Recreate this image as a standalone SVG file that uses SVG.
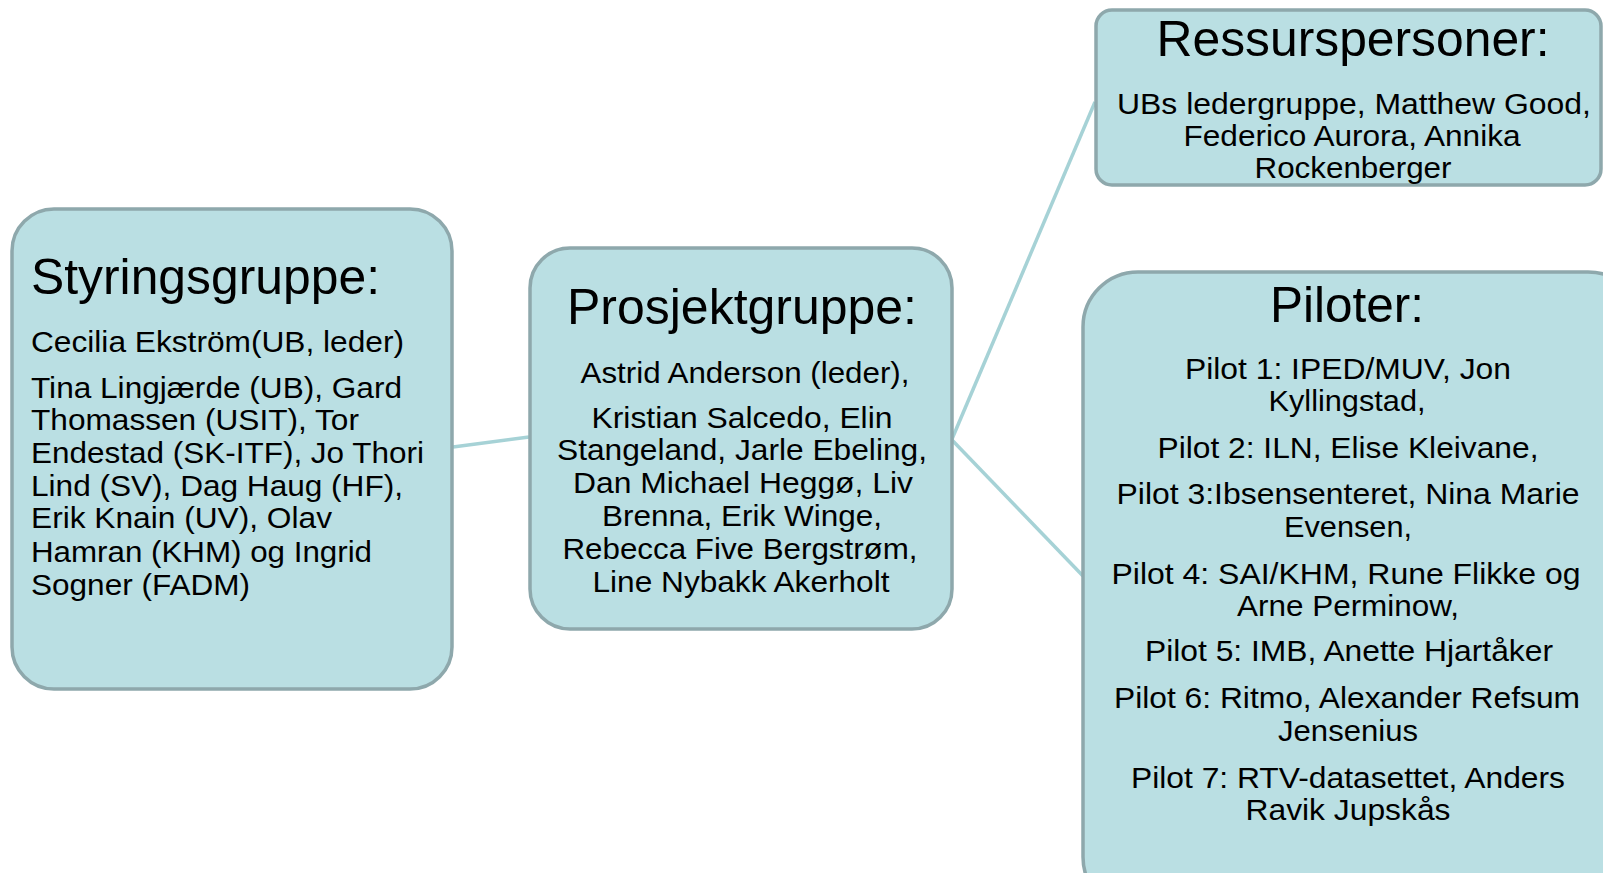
<svg xmlns="http://www.w3.org/2000/svg" width="1603" height="873" viewBox="0 0 1603 873">
<style>
.box{fill:#badfe3;stroke:#8ea8ac;stroke-width:3.5}
.conn{stroke:#a6d2d6;stroke-width:3.5;fill:none}
text{font-family:"Liberation Sans",Arial,sans-serif;fill:#000}
.t{font-size:50px}
.b{font-size:30px}
.c{text-anchor:middle}
</style>
<rect width="1603" height="873" fill="#ffffff"/>
<g id="connectors">
<line class="conn" x1="453" y1="447" x2="529" y2="437"/>
<line class="conn" x1="952" y1="439" x2="1095" y2="102"/>
<line class="conn" x1="952" y1="440" x2="1083" y2="576"/>
</g>
<g id="styringsgruppe">
<rect class="box" x="12" y="209" width="440" height="480" rx="42"/>
<text class="t" x="31" y="294" textLength="349" lengthAdjust="spacingAndGlyphs">Styringsgruppe:</text>
<text class="b" x="31" y="352" textLength="373" lengthAdjust="spacingAndGlyphs">Cecilia Ekström(UB, leder)</text>
<text class="b" x="31" y="398" textLength="371" lengthAdjust="spacingAndGlyphs">Tina Lingjærde (UB), Gard</text>
<text class="b" x="31" y="430" textLength="328" lengthAdjust="spacingAndGlyphs">Thomassen (USIT), Tor</text>
<text class="b" x="31" y="463" textLength="393" lengthAdjust="spacingAndGlyphs">Endestad (SK-ITF), Jo Thori</text>
<text class="b" x="31" y="496" textLength="372" lengthAdjust="spacingAndGlyphs">Lind (SV), Dag Haug (HF),</text>
<text class="b" x="31" y="528" textLength="301" lengthAdjust="spacingAndGlyphs">Erik Knain (UV), Olav</text>
<text class="b" x="31" y="562" textLength="341" lengthAdjust="spacingAndGlyphs">Hamran (KHM) og Ingrid</text>
<text class="b" x="31" y="595" textLength="219" lengthAdjust="spacingAndGlyphs">Sogner (FADM)</text>
</g>
<g id="prosjektgruppe">
<rect class="box" x="530" y="248" width="422" height="381" rx="40"/>
<text class="t c" x="742" y="324" textLength="350" lengthAdjust="spacingAndGlyphs">Prosjektgruppe:</text>
<text class="b c" x="745" y="383" textLength="329" lengthAdjust="spacingAndGlyphs">Astrid Anderson (leder),</text>
<text class="b c" x="742" y="428" textLength="301" lengthAdjust="spacingAndGlyphs">Kristian Salcedo, Elin</text>
<text class="b c" x="742" y="460" textLength="370" lengthAdjust="spacingAndGlyphs">Stangeland, Jarle Ebeling,</text>
<text class="b c" x="743" y="493" textLength="340" lengthAdjust="spacingAndGlyphs">Dan Michael Heggø, Liv</text>
<text class="b c" x="742" y="526" textLength="280" lengthAdjust="spacingAndGlyphs">Brenna, Erik Winge,</text>
<text class="b c" x="740" y="559" textLength="355" lengthAdjust="spacingAndGlyphs">Rebecca Five Bergstrøm,</text>
<text class="b c" x="741" y="592" textLength="297" lengthAdjust="spacingAndGlyphs">Line Nybakk Akerholt</text>
</g>
<g id="ressurspersoner">
<rect class="box" x="1096" y="10" width="505" height="175" rx="16"/>
<text class="t c" x="1353" y="56" textLength="393" lengthAdjust="spacingAndGlyphs">Ressurspersoner:</text>
<text class="b c" x="1354" y="114" textLength="474" lengthAdjust="spacingAndGlyphs">UBs ledergruppe, Matthew Good,</text>
<text class="b c" x="1352" y="146" textLength="337" lengthAdjust="spacingAndGlyphs">Federico Aurora, Annika</text>
<text class="b c" x="1353" y="178" textLength="197" lengthAdjust="spacingAndGlyphs">Rockenberger</text>
</g>
<g id="piloter">
<rect class="box" x="1083" y="272" width="560" height="640" rx="55"/>
<text class="t c" x="1347" y="322" textLength="154" lengthAdjust="spacingAndGlyphs">Piloter:</text>
<text class="b c" x="1348" y="379" textLength="326" lengthAdjust="spacingAndGlyphs">Pilot 1: IPED/MUV, Jon</text>
<text class="b c" x="1347" y="411" textLength="157" lengthAdjust="spacingAndGlyphs">Kyllingstad,</text>
<text class="b c" x="1348" y="458" textLength="381" lengthAdjust="spacingAndGlyphs">Pilot 2: ILN, Elise Kleivane,</text>
<text class="b c" x="1348" y="504" textLength="463" lengthAdjust="spacingAndGlyphs">Pilot 3:Ibsensenteret, Nina Marie</text>
<text class="b c" x="1348" y="537" textLength="128" lengthAdjust="spacingAndGlyphs">Evensen,</text>
<text class="b c" x="1346" y="584" textLength="469" lengthAdjust="spacingAndGlyphs">Pilot 4: SAI/KHM, Rune Flikke og</text>
<text class="b c" x="1348" y="616" textLength="222" lengthAdjust="spacingAndGlyphs">Arne Perminow,</text>
<text class="b c" x="1349" y="661" textLength="408" lengthAdjust="spacingAndGlyphs">Pilot 5: IMB, Anette Hjartåker</text>
<text class="b c" x="1347" y="708" textLength="466" lengthAdjust="spacingAndGlyphs">Pilot 6: Ritmo, Alexander Refsum</text>
<text class="b c" x="1348" y="741" textLength="140" lengthAdjust="spacingAndGlyphs">Jensenius</text>
<text class="b c" x="1348" y="788" textLength="434" lengthAdjust="spacingAndGlyphs">Pilot 7: RTV-datasettet, Anders</text>
<text class="b c" x="1348" y="820" textLength="205" lengthAdjust="spacingAndGlyphs">Ravik Jupskås</text>
</g>
</svg>
